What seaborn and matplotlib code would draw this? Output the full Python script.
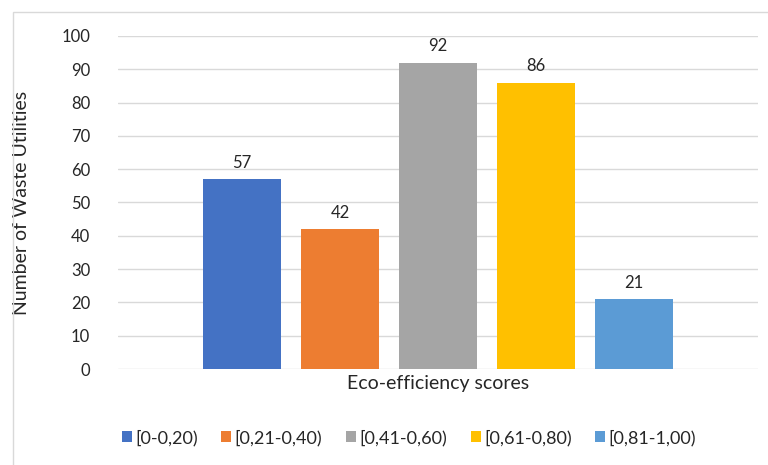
import pandas as pd
import matplotlib
matplotlib.use('Agg')
import matplotlib.pyplot as plt
import seaborn as sns
from matplotlib.patches import Rectangle

score_ranges = ['[0-0,20)', '[0,21-0,40)', '[0,41-0,60)', '[0,61-0,80)', '[0,81-1,00)']
utilities = [57, 42, 92, 86, 21]
colors = ['#4472C4', '#ED7D31', '#A5A5A5', '#FFC000', '#5B9BD5']

df = pd.DataFrame({
    'group': ['Eco-efficiency scores'] * len(score_ranges),
    'range': score_ranges,
    'count': utilities,
})

sns.set_style('white')
plt.rcParams['font.family'] = ['Lato', 'DejaVu Sans']
txt = '#262626'

fig = plt.figure(figsize=(7.68, 4.65), dpi=100)
ax = fig.add_axes([118 / 768, 1 - 369 / 465, 640 / 768, 333 / 465])

sns.barplot(data=df, x='group', y='count', hue='range', hue_order=score_ranges,
            palette=colors, saturation=1, width=0.766, gap=0.204, linewidth=0,
            ax=ax, zorder=3)

for c in ax.containers:
    ax.bar_label(c, padding=6, fontsize=12, color=txt)

ax.set_xlim(-0.5, 0.5)
ax.set_ylim(0, 100)
ax.set_yticks(range(0, 101, 10))
ax.yaxis.grid(True, color='#d9d9d9', linewidth=1, zorder=0)
ax.set_axisbelow(True)
for s in ax.spines.values():
    s.set_visible(False)
ax.tick_params(axis='y', length=0, pad=20, labelsize=12, labelcolor=txt)
ax.set_xticks([])
ax.set_xlabel('Eco-efficiency scores', fontsize=14, color=txt, labelpad=4)
ax.set_ylabel('Number of Waste Utilities', fontsize=14, color=txt)
ax.yaxis.set_label_coords(-(118 - 30) / 640, 0.5)

handles, labels = ax.get_legend_handles_labels()
ax.legend(handles, labels, loc='center', bbox_to_anchor=(409 / 768, 1 - 438 / 465),
          bbox_transform=fig.transFigure, ncol=5, frameon=False, fontsize=13,
          handlelength=0.55, handleheight=0.55, handletextpad=0.2, columnspacing=1.3,
          labelcolor=txt)

fig.patches.append(Rectangle((13 / 768, -0.1), 1.0, 453 / 465 + 0.1,
                             transform=fig.transFigure, fill=False,
                             edgecolor='#d9d9d9', linewidth=1))

fig.savefig('out.png', dpi=100)
